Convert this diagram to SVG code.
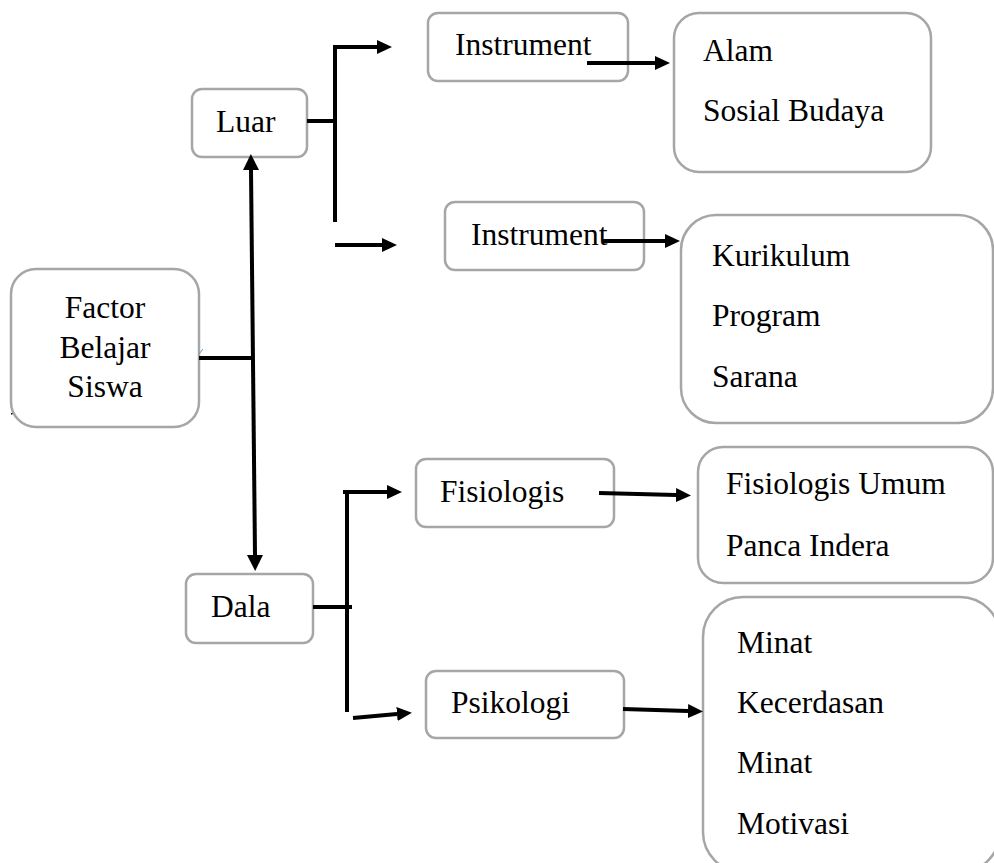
<svg xmlns="http://www.w3.org/2000/svg" width="994" height="863" viewBox="0 0 994 863">
<style>
.box{fill:#fff;stroke:#a6a6a6;stroke-width:2.5}
.t{font-family:"Liberation Serif","Times New Roman",serif;font-size:31.5px;fill:#000}
.c{stroke:#000;stroke-width:4;fill:none}
</style>
<defs>
<marker id="ah" markerUnits="userSpaceOnUse" markerWidth="15" markerHeight="14" refX="0" refY="7" orient="auto"><path d="M0,0 L15,7 L0,14 z" fill="#000"/></marker>
<marker id="ahv" markerUnits="userSpaceOnUse" markerWidth="16" markerHeight="16" refX="0" refY="8" orient="auto-start-reverse"><path d="M0,0 L16,8 L0,16 z" fill="#000"/></marker>
</defs>
<rect width="994" height="863" fill="#fff"/>
<g id="factor"><rect class="box" x="11" y="269" width="188" height="158" rx="25"/>
<text class="t" x="105" y="318" text-anchor="middle">Factor</text>
<text class="t" x="105" y="358" text-anchor="middle">Belajar</text>
<text class="t" x="105" y="397" text-anchor="middle">Siswa</text></g>
<g id="luar"><rect class="box" x="192" y="89" width="115" height="68" rx="10"/>
<text class="t" x="216" y="132">Luar</text></g>
<g id="instrument1"><rect class="box" x="428" y="13" width="200" height="68" rx="10"/>
<text class="t" x="455" y="55">Instrument</text></g>
<g id="alam"><rect class="box" x="674" y="13" width="257" height="159" rx="25"/>
<text class="t" x="703" y="61">Alam</text>
<text class="t" x="703" y="121">Sosial Budaya</text></g>
<g id="instrument2"><rect class="box" x="445" y="202" width="199" height="68" rx="10"/>
<text class="t" x="471" y="245">Instrument</text></g>
<g id="kurikulum"><rect class="box" x="681" y="215" width="312" height="208" rx="35"/>
<text class="t" x="712" y="266">Kurikulum</text>
<text class="t" x="712" y="326">Program</text>
<text class="t" x="712" y="387">Sarana</text></g>
<g id="dala"><rect class="box" x="186" y="574" width="127" height="69" rx="10"/>
<text class="t" x="211" y="617">Dala</text></g>
<g id="fisiologis"><rect class="box" x="416" y="459" width="198" height="68" rx="10"/>
<text class="t" x="440" y="502">Fisiologis</text></g>
<g id="fisiologis-umum"><rect class="box" x="698" y="447" width="295" height="136" rx="25"/>
<text class="t" x="726" y="494">Fisiologis Umum</text>
<text class="t" x="726" y="556">Panca Indera</text></g>
<g id="psikologi"><rect class="box" x="426" y="671" width="198" height="67" rx="10"/>
<text class="t" x="451" y="713">Psikologi</text></g>
<g id="minat"><rect class="box" x="703" y="597" width="297" height="275" rx="40"/>
<text class="t" x="737" y="653">Minat</text>
<text class="t" x="737" y="713">Kecerdasan</text>
<text class="t" x="737" y="773">Minat</text>
<text class="t" x="737" y="834">Motivasi</text></g>
<g id="connectors">
<line class="c" x1="199" y1="358" x2="252" y2="358"/>
<line class="c" x1="251" y1="170" x2="255" y2="555" marker-start="url(#ahv)" marker-end="url(#ahv)"/>
<line class="c" x1="307" y1="121" x2="335" y2="121"/>
<line class="c" x1="335" y1="45" x2="335" y2="222"/>
<line class="c" x1="333" y1="47" x2="377" y2="47" marker-end="url(#ah)"/>
<line class="c" x1="335" y1="245" x2="382" y2="245" marker-end="url(#ah)"/>
<line class="c" x1="587" y1="63" x2="655" y2="63" marker-end="url(#ah)"/>
<line class="c" x1="602" y1="241" x2="665" y2="241" marker-end="url(#ah)"/>
<line class="c" x1="313" y1="607" x2="352" y2="607"/>
<line class="c" x1="347" y1="490" x2="347" y2="712"/>
<line class="c" x1="343" y1="492" x2="387" y2="492" marker-end="url(#ah)"/>
<line class="c" x1="353" y1="718" x2="397" y2="714" marker-end="url(#ah)"/>
<line class="c" x1="599" y1="493" x2="676" y2="495" marker-end="url(#ah)"/>
<line class="c" x1="623" y1="709" x2="688" y2="711" marker-end="url(#ah)"/>
</g>
<line x1="199" y1="354" x2="203" y2="349" stroke="#5b9bd5" stroke-width="1"/>
<rect x="11" y="413" width="1.5" height="1.5" fill="#000"/>
</svg>
